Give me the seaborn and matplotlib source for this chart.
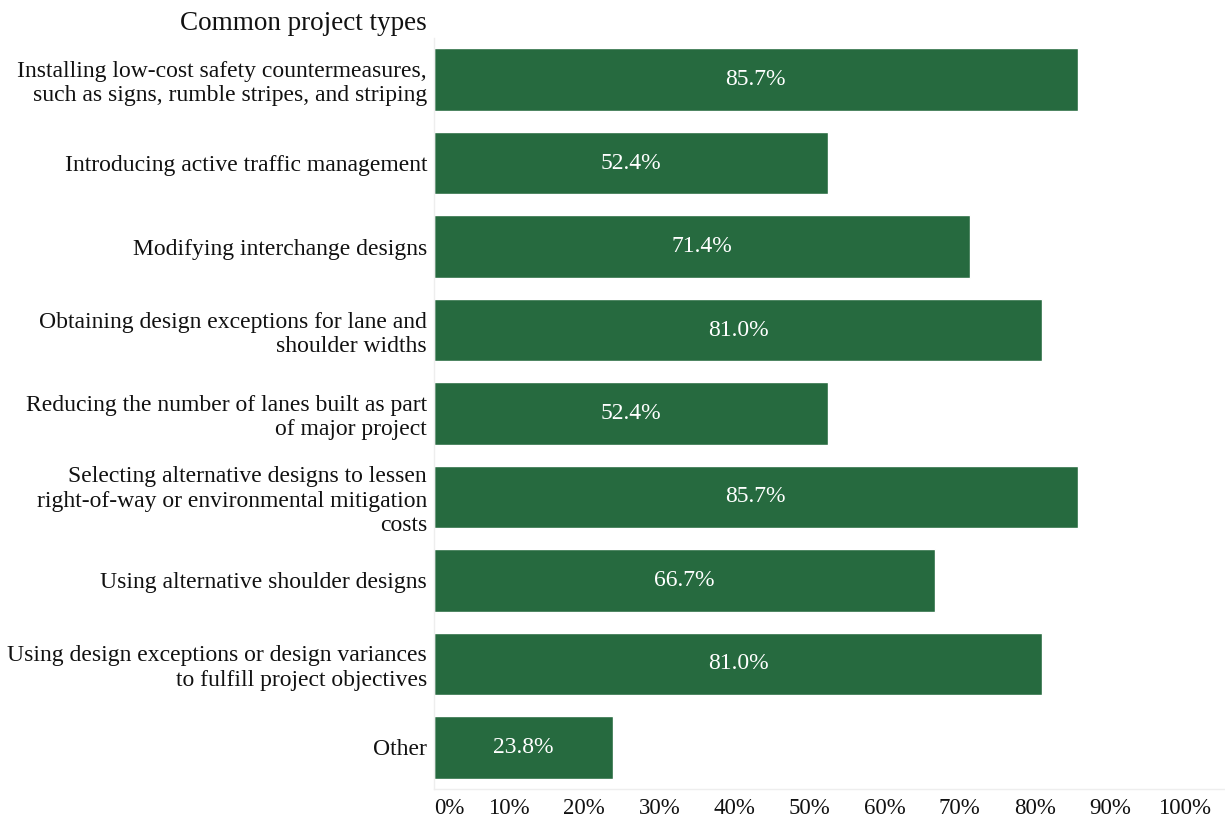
import matplotlib
matplotlib.use("Agg")
import matplotlib.pyplot as plt
import seaborn as sns
import pandas as pd

# Survey results: share of respondents reporting each project type
categories = [
    "Installing low-cost safety countermeasures,\nsuch as signs, rumble stripes, and striping",
    "Introducing active traffic management",
    "Modifying interchange designs",
    "Obtaining design exceptions for lane and\nshoulder widths",
    "Reducing the number of lanes built as part\nof major project",
    "Selecting alternative designs to lessen\nright-of-way or environmental mitigation\ncosts",
    "Using alternative shoulder designs",
    "Using design exceptions or design variances\nto fulfill project objectives",
    "Other",
]
shares = [85.7, 52.4, 71.4, 81.0, 52.4, 85.7, 66.7, 81.0, 23.8]
tick_values = [0, 10, 20, 30, 40, 50, 60, 70, 80, 90, 100]
tick_labels = [f"{v}%" for v in tick_values]

df = pd.DataFrame({"type": categories, "share": shares})

sns.set_style("white")
plt.rcParams["font.family"] = ["Liberation Serif", "DejaVu Serif"]

W, H = 1225, 819
fig = plt.figure(figsize=(W / 100, H / 100), dpi=100)
left_px, right_px, top_px, bottom_px = 434, 1225, 38, 789
ax = fig.add_axes([left_px / W, 1 - bottom_px / H,
                   (right_px - left_px) / W, (bottom_px - top_px) / H])

bar_color = "#266A3F"
sns.barplot(data=df, x="share", y="type", color=bar_color, width=0.75,
            saturation=1, ax=ax, orient="h")

px_per_unit = 7.51
ax.set_xlim(0, (right_px - left_px) / px_per_unit)
ax.set_ylim(len(categories) - 0.5, -0.5)

# value labels centred in each bar
for i, v in enumerate(shares):
    ax.text(v / 2, i, f"{v:.1f}%", ha="center", va="center",
            color="white", fontsize=17)

ax.set_xlabel("")
ax.set_ylabel("")
ax.set_xticks(tick_values)
ax.set_xticklabels(tick_labels, fontsize=16.5, color="#111111")
xt = ax.get_xticklabels()
xt[0].set_ha("left")
ax.tick_params(axis="x", length=5, width=0.8, color="#eeeeee", pad=1.5)
ax.set_yticks(range(len(categories)))
ax.set_yticklabels(categories, fontsize=17, color="#111111", ha="right",
                   multialignment="right")
ax.tick_params(axis="y", length=0, pad=5)

for side in ["top", "right"]:
    ax.spines[side].set_visible(False)
ax.spines["left"].set_color("#eeeeee")
ax.spines["bottom"].set_color("#eeeeee")
ax.spines["left"].set_linewidth(1)
ax.spines["bottom"].set_linewidth(1)

fig.text(427 / W, 1 - 23 / H, "Common project types", ha="right",
         va="center", fontsize=19.5, color="#111111")

fig.savefig("out.png", dpi=100)
